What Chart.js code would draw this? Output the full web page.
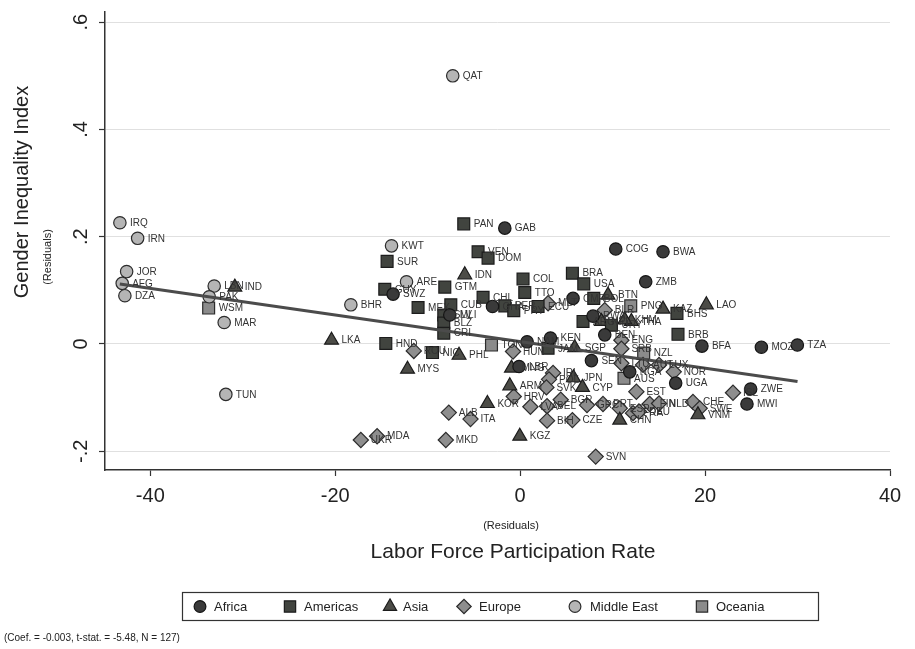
<!DOCTYPE html>
<html>
<head>
<meta charset="utf-8">
<title>Gender Inequality Index vs Labor Force Participation Rate</title>
<script src="https://cdn.jsdelivr.net/npm/chart.js@4.4.1/dist/chart.umd.min.js"></script>
<style>
  html, body { margin: 0; padding: 0; background: #ffffff; }
  canvas { display: block; }
</style>
</head>
<body>
<canvas id="chart" width="915" height="649"></canvas>
<script>
// ---- Data: residuals of LFPR (x) and GII (y) by country, grouped by region ----
const africaCodes = ['GAB','COG','BWA','ZMB','MLI','SWZ','GHA','NAM','KEN','LBR','CMR','RWA','BEN','SEN','NGA','UGA','BFA','MOZ','TZA','ZWE','MWI'];
const africaX = [-1.66, 10.34, 15.45, 13.58, -7.61, -13.74, -2.99, 0.75, 3.28, -0.12, 5.72, 7.88, 9.15, 7.71, 11.85, 16.82, 19.66, 26.09, 29.98, 24.93, 24.53];
const africaY = [0.216, 0.177, 0.172, 0.116, 0.054, 0.093, 0.070, 0.004, 0.011, -0.042, 0.085, 0.052, 0.017, -0.031, -0.052, -0.073, -0.004, -0.006, -0.002, -0.084, -0.112];

const americasCodes = ['PAN','VEN','DOM','GTM','COL','TTO','CHL','CUB','MEX','SUR','GUY','BRA','USA','HND','NIC','SLV','BLZ','CRI','PER','PRY','ECU','ARG','URY','BOL','BHS','BRB','JAM'];
const americasX = [-6.10, -4.55, -3.47, -8.15, 0.31, 0.50, -4.01, -7.50, -11.04, -14.39, -14.64, 5.65, 6.88, -14.53, -9.48, -8.26, -8.26, -8.26, -1.66, -0.69, 1.94, 6.80, 9.87, 7.96, 16.96, 17.07, 3.02];
const americasY = [0.224, 0.172, 0.160, 0.106, 0.121, 0.096, 0.087, 0.073, 0.068, 0.154, 0.102, 0.132, 0.112, 0.001, -0.016, 0.054, 0.039, 0.020, 0.071, 0.062, 0.070, 0.042, 0.035, 0.085, 0.057, 0.018, -0.008];

const asiaCodes = ['IND','IDN','LKA','MYS','PHL','MNG','ARM','KOR','KGZ','JPN','CYP','SGP','BTN','KAZ','LAO','THA','KHM','NPL','CHN','VNM'];
const asiaX = [-30.86, -5.99, -20.40, -12.18, -6.61, -0.94, -1.12, -3.54, -0.04, 5.77, 6.74, 5.90, 9.50, 15.45, 20.14, 12.03, 11.31, 8.79, 10.77, 19.23];
const asiaY = [0.106, 0.129, 0.007, -0.047, -0.021, -0.045, -0.078, -0.111, -0.172, -0.063, -0.081, -0.007, 0.091, 0.065, 0.073, 0.042, 0.045, 0.042, -0.142, -0.132];

const europeCodes = ['ROU','UKR','MDA','ALB','ITA','MKD','HUN','MLT','IRL','POL','SVK','HRV','LVA','BEL','BGR','BIH','CZE','ENG','SRB','LTU','AUT','LUX','NOR','EST','GRC','PRT','ESP','FRA','DEU','FIN','NLD','CHE','SWE','ISL','SVN','BLR'];
const europeX = [-11.50, -17.23, -15.47, -7.72, -5.37, -8.04, -0.77, 3.02, 3.56, 3.12, 2.84, -0.69, 1.11, 2.91, 4.39, 2.91, 5.65, 10.95, 10.95, 10.95, 13.29, 15.02, 16.61, 12.57, 7.23, 8.96, 10.77, 12.21, 12.85, 14.01, 15.02, 18.69, 19.42, 23.02, 8.17, 9.15];
const europeY = [-0.013, -0.179, -0.172, -0.128, -0.140, -0.179, -0.014, 0.076, -0.054, -0.066, -0.081, -0.098, -0.117, -0.116, -0.104, -0.143, -0.142, 0.007, -0.009, -0.036, -0.039, -0.039, -0.052, -0.089, -0.114, -0.112, -0.120, -0.129, -0.126, -0.112, -0.111, -0.108, -0.120, -0.091, -0.210, 0.063];

const middleEastCodes = ['IRQ','IRN','JOR','AFG','DZA','LBN','PAK','MAR','TUN','KWT','ARE','BHR','QAT'];
const middleEastX = [-43.29, -41.37, -42.56, -43.04, -42.75, -33.09, -33.63, -32.01, -31.83, -13.91, -12.29, -18.31, -7.29];
const middleEastY = [0.226, 0.197, 0.135, 0.113, 0.090, 0.108, 0.088, 0.040, -0.094, 0.183, 0.116, 0.073, 0.500];

const oceaniaCodes = ['WSM','TON','PNG','NZL','AUS'];
const oceaniaX = [-33.69, -3.10, 11.96, 13.36, 11.23];
const oceaniaY = [0.067, -0.002, 0.071, -0.017, -0.064];

// Fitted regression line (endpoints over the data range)
const fitX = [-43.3, 30.0];
const fitY = [0.112, -0.070];

// Axis ticks
const xTickValues = [-40, -20, 0, 20, 40];
const yTickValues = [-0.2, 0, 0.2, 0.4, 0.6];

const noteText = '(Coef. = -0.003, t-stat. = -5.48, N = 127)';

// ---- Presentation ----
const FONT = '"Liberation Sans", Arial, Helvetica, sans-serif';

const regionStyles = {
  'Africa':      { pointStyle: 'circle',   radius: 6.2, bg: '#3a3a3a', border: '#161616' },
  'Americas':    { pointStyle: 'rect',     radius: 8.4, bg: '#41443f', border: '#1c1c1c' },
  'Asia':        { pointStyle: 'triangle', radius: 8.0, bg: '#4c4c47', border: '#1c1c1c' },
  'Europe':      { pointStyle: 'rectRot',  radius: 7.6, bg: '#8e8e8e', border: '#2c2c2c' },
  'Middle East': { pointStyle: 'circle',   radius: 6.2, bg: '#b5b5b5', border: '#2c2c2c' },
  'Oceania':     { pointStyle: 'rect',     radius: 8.4, bg: '#8b8b8b', border: '#2c2c2c' }
};

function points(codes, xs, ys) {
  return codes.map((c, i) => ({ x: xs[i], y: ys[i], code: c }));
}

function regionDataset(name, codes, xs, ys) {
  const s = regionStyles[name];
  return {
    label: name,
    data: points(codes, xs, ys),
    pointStyle: s.pointStyle,
    pointRadius: s.radius,
    pointBackgroundColor: s.bg,
    pointBorderColor: s.border,
    pointBorderWidth: 1.2,
    showLine: false,
    order: 1
  };
}

const datasets = [
  regionDataset('Africa', africaCodes, africaX, africaY),
  regionDataset('Americas', americasCodes, americasX, americasY),
  regionDataset('Asia', asiaCodes, asiaX, asiaY),
  regionDataset('Europe', europeCodes, europeX, europeY),
  regionDataset('Middle East', middleEastCodes, middleEastX, middleEastY),
  regionDataset('Oceania', oceaniaCodes, oceaniaX, oceaniaY),
  {
    label: 'Fitted values',
    data: [{ x: fitX[0], y: fitY[0] }, { x: fitX[1], y: fitY[1] }],
    showLine: true,
    borderColor: '#4b4b4b',
    borderWidth: 3,
    pointRadius: 0,
    order: 0
  }
];

function fmtY(v) {
  if (Math.abs(v) < 1e-9) return '0';
  const s = Math.abs(v).toFixed(1).replace(/^0/, '');
  return (v < 0 ? '-' : '') + s;
}

// Country codes to the right of each marker
const pointLabels = {
  id: 'pointLabels',
  afterDatasetsDraw(chart) {
    const ctx = chart.ctx;
    ctx.save();
    ctx.font = '10px ' + FONT;
    ctx.fillStyle = '#333333';
    ctx.textAlign = 'left';
    ctx.textBaseline = 'middle';
    chart.data.datasets.forEach((ds, di) => {
      if (ds.showLine) return;
      const meta = chart.getDatasetMeta(di);
      meta.data.forEach((el, i) => {
        ctx.fillText(ds.data[i].code, el.x + 10, el.y + 0.5);
      });
    });
    ctx.restore();
  }
};

// Rotated y tick labels, axis titles, legend and note
const decorations = {
  id: 'decorations',
  afterDraw(chart) {
    const ctx = chart.ctx;
    const ys = chart.scales.y;
    ctx.save();
    ctx.fillStyle = '#222222';

    // y tick labels, reading bottom to top
    ctx.font = '20px ' + FONT;
    ctx.textAlign = 'center';
    ctx.textBaseline = 'middle';
    yTickValues.forEach(v => {
      const py = ys.getPixelForValue(v);
      ctx.save();
      ctx.translate(81, py);
      ctx.rotate(-Math.PI / 2);
      ctx.fillText(fmtY(v), 0, 0);
      ctx.restore();
    });

    // y axis titles
    ctx.save();
    ctx.translate(22, 192);
    ctx.rotate(-Math.PI / 2);
    ctx.font = '20px ' + FONT;
    ctx.fillText('Gender Inequality Index', 0, 0);
    ctx.restore();

    ctx.save();
    ctx.translate(48, 257);
    ctx.rotate(-Math.PI / 2);
    ctx.font = '11px ' + FONT;
    ctx.fillText('(Residuals)', 0, 0);
    ctx.restore();

    // x axis titles
    ctx.font = '11px ' + FONT;
    ctx.fillText('(Residuals)', 511, 526);
    ctx.font = '21px ' + FONT;
    ctx.fillText('Labor Force Participation Rate', 513, 552);

    // legend box
    ctx.strokeStyle = '#333333';
    ctx.lineWidth = 1.2;
    ctx.strokeRect(182.5, 592.5, 636, 28);
    const legendItems = [
      { name: 'Africa', mx: 200, tx: 214 },
      { name: 'Americas', mx: 290, tx: 304 },
      { name: 'Asia', mx: 390, tx: 403 },
      { name: 'Europe', mx: 464, tx: 479 },
      { name: 'Middle East', mx: 575, tx: 590 },
      { name: 'Oceania', mx: 702, tx: 716 }
    ];
    ctx.font = '13px ' + FONT;
    ctx.textAlign = 'left';
    legendItems.forEach(it => {
      const s = regionStyles[it.name];
      ctx.save();
      ctx.fillStyle = s.bg;
      ctx.strokeStyle = s.border;
      ctx.lineWidth = 1.2;
      Chart.helpers.drawPoint(ctx, { pointStyle: s.pointStyle, radius: s.radius * 0.95, borderWidth: 1.2, rotation: 0 }, it.mx, 606.5);
      ctx.restore();
      ctx.fillStyle = '#222222';
      ctx.fillText(it.name, it.tx, 607);
    });

    // note
    ctx.font = '10px ' + FONT;
    ctx.fillText(noteText, 4, 638);
    ctx.restore();
  }
};

new Chart(document.getElementById('chart'), {
  type: 'scatter',
  data: { datasets },
  options: {
    responsive: false,
    animation: false,
    events: [],
    layout: { padding: { top: 12, right: 25, bottom: 0, left: 0 } },
    plugins: {
      legend: { display: false },
      tooltip: { enabled: false },
      title: { display: false }
    },
    scales: {
      x: {
        type: 'linear',
        min: -44.9,
        max: 40,
        afterBuildTicks: s => { s.ticks = xTickValues.map(v => ({ value: v })); },
        afterFit: s => { s.height = 179; },
        grid: { drawOnChartArea: false, drawTicks: true, tickLength: 6, tickColor: '#333333', tickWidth: 1.2 },
        border: { display: true, color: '#333333', width: 1.5 },
        ticks: {
          font: { family: FONT, size: 20 },
          color: '#222222',
          padding: 8,
          maxRotation: 0,
          minRotation: 0,
          callback: v => String(v)
        }
      },
      y: {
        type: 'linear',
        min: -0.235,
        max: 0.619,
        afterBuildTicks: s => { s.ticks = yTickValues.map(v => ({ value: v })); },
        afterFit: s => { s.width = 105; },
        grid: { color: '#e0e0e0', lineWidth: 1, drawTicks: true, tickLength: 6, tickColor: '#333333', tickWidth: 1.2 },
        border: { display: true, color: '#333333', width: 1.5 },
        ticks: { display: false }
      }
    }
  },
  plugins: [pointLabels, decorations]
});
</script>
</body>
</html>
